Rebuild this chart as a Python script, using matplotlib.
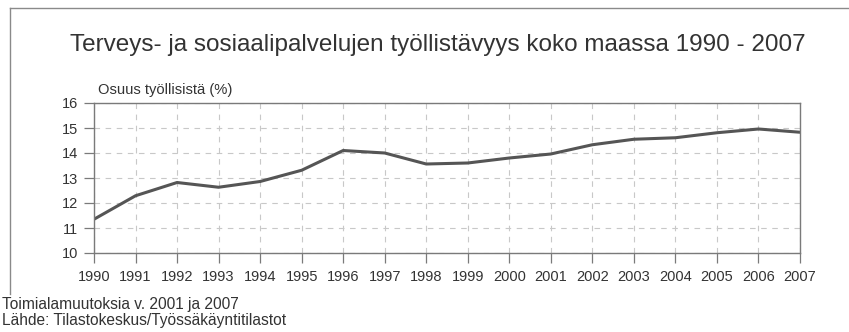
import matplotlib
matplotlib.use("Agg")
import matplotlib.pyplot as plt
from matplotlib.lines import Line2D

plt.rcParams['font.family'] = ['Liberation Sans', 'DejaVu Sans']

# Osuus työllisistä (%), koko maa
years = list(range(1990, 2008))
share = [11.35, 12.29, 12.82, 12.63, 12.86, 13.31, 14.10, 14.00, 13.56,
         13.60, 13.80, 13.96, 14.33, 14.55, 14.61, 14.81, 14.96, 14.83]
yticks = [10, 11, 12, 13, 14, 15, 16]

title = "Terveys- ja sosiaalipalvelujen työllistävyys koko maassa 1990 - 2007"
ylabel = "Osuus työllisistä (%)"
notes = ["Toimialamuutoksia v. 2001 ja 2007",
         "Lähde: Tilastokeskus/Työssäkäyntitilastot"]

txt = '#333333'
axcol = '#7a7a7a'

fig = plt.figure(figsize=(8.49, 3.32), dpi=100)
ax = fig.add_axes([94 / 849, 1 - 253 / 332, 706 / 849, 150 / 332])

ax.plot(years, share, color='#555555', lw=2.2, solid_joinstyle='round')

ax.set_xlim(1990, 2007)
ax.set_ylim(10, 16)
ax.set_xticks(years)
ax.set_xticklabels([str(y) for y in years])
ax.set_yticks(yticks)

ax.grid(True, color='#c8c8c8', lw=0.8, linestyle=(0, (5, 5)))
ax.set_axisbelow(True)
for s in ax.spines.values():
    s.set_color(axcol)
    s.set_linewidth(1.0)

ax.tick_params(axis='both', colors=axcol, labelcolor=txt, labelsize=10.5,
               length=7.5, width=0.9, direction='out')
ax.tick_params(axis='x', pad=4.5)
ax.tick_params(axis='y', pad=4)

fig.text(98 / 849, 1 - 90 / 332, ylabel, fontsize=10.6, color=txt,
         ha='left', va='center')
fig.text(438 / 849, 1 - 45 / 332, title, fontsize=17.5, color=txt,
         ha='center', va='center')
fig.text(2 / 849, 1 - 304 / 332, notes[0], fontsize=11.2, color=txt,
         ha='left', va='center')
fig.text(2 / 849, 1 - 320 / 332, notes[1], fontsize=11.2, color=txt,
         ha='left', va='center')

# outer frame (left and top edges visible)
fx, fy, fb = 10 / 849, 1 - 8 / 332, 1 - 294 / 332
fig.add_artist(Line2D([fx, fx], [fb, fy], color='#8a8a8a', lw=1.0))
fig.add_artist(Line2D([fx, 1.0], [fy, fy], color='#8a8a8a', lw=1.0))

fig.savefig("out.png", dpi=100, facecolor='white')
